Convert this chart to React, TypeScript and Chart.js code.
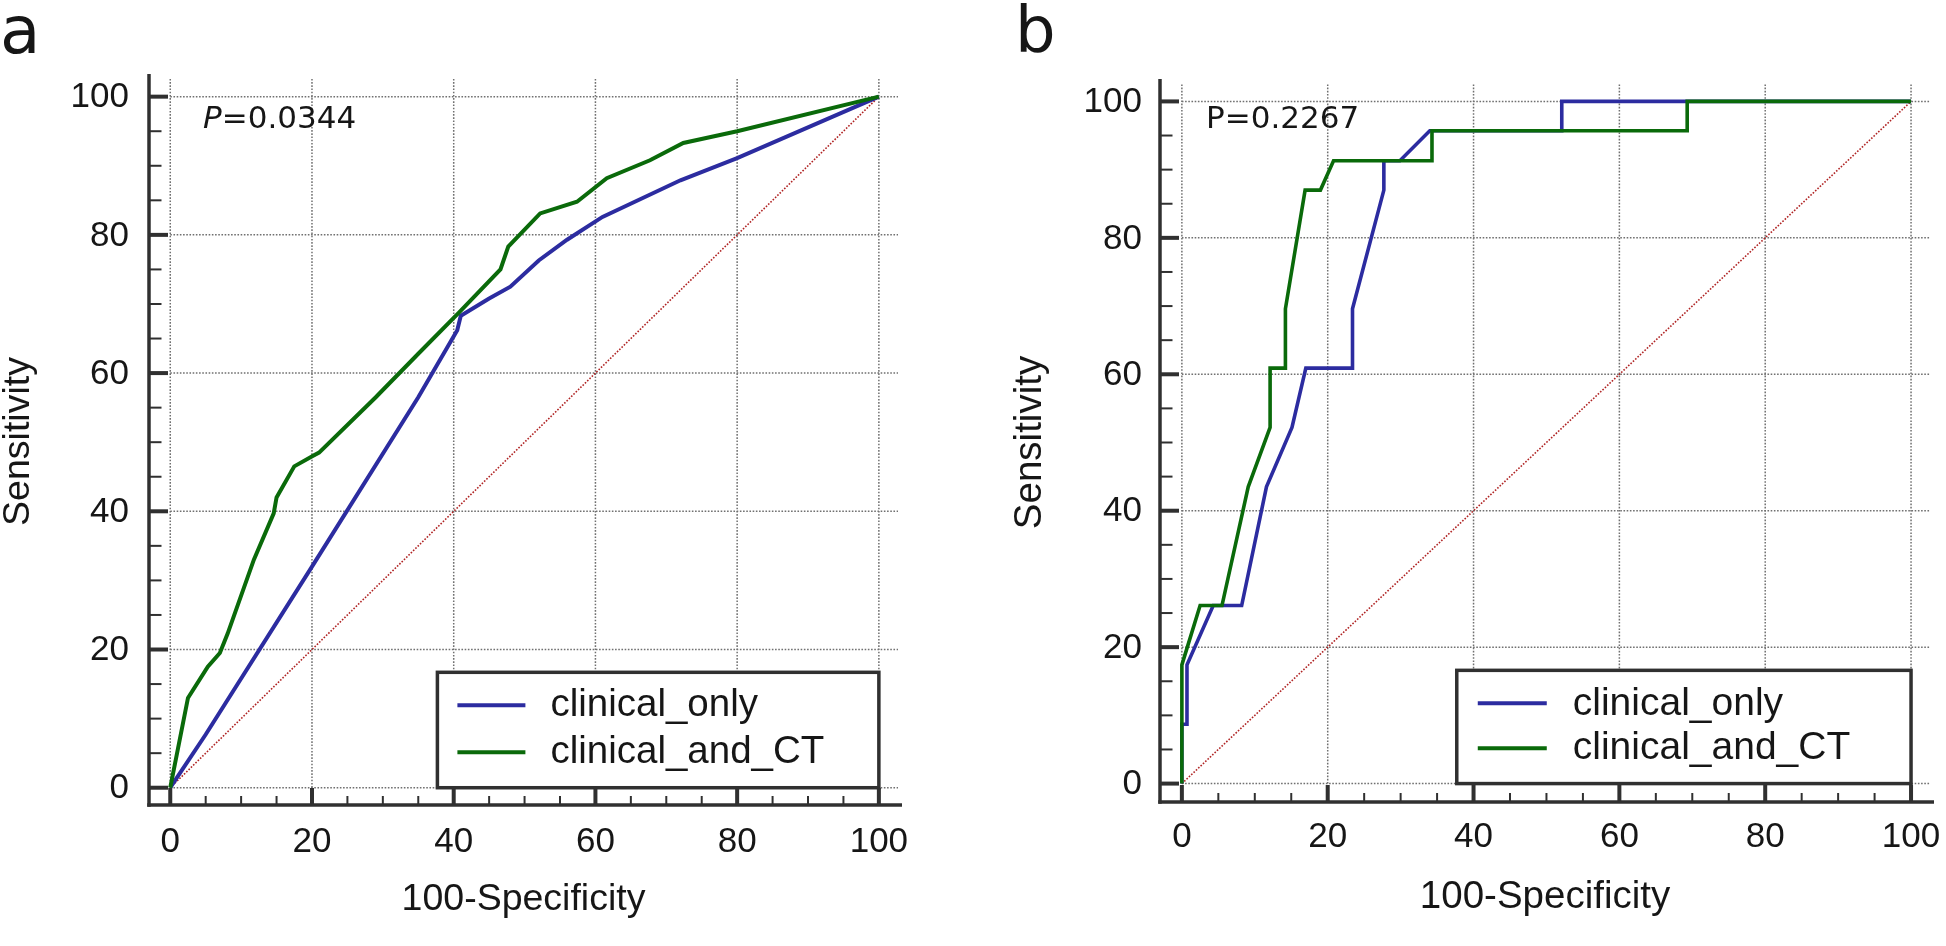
import React, { useEffect, useRef } from "react";
import { Chart, registerables } from "chart.js";
Chart.register(...registerables);

// ---------- data ----------
const SERIES_LABELS = ["clinical_only", "clinical_and_CT"];

// Panel a
const A_CLIN_X = [0, 5, 20, 35, 40.5, 41, 45, 48, 52, 56, 61, 72, 80, 100];
const A_CLIN_Y = [0, 7.7, 32, 56.5, 66.2, 68.3, 70.8, 72.5, 76.3, 79.3, 82.6, 87.9, 91.1, 100];
const A_CT_X = [0, 2.5, 5.3, 7, 8.1, 11.8, 14.6, 15, 17.5, 20.1, 21, 29, 35, 40.7, 46.6, 47.7, 52.2, 57.4, 61.6, 67.7, 72.4, 80, 100];
const A_CT_Y = [0, 13, 17.5, 19.5, 22.3, 33, 39.7, 42, 46.5, 48, 48.5, 56.5, 62.8, 68.7, 75, 78.3, 83.1, 84.8, 88.2, 90.8, 93.3, 95, 100];

// Panel b
const B_CLIN_X = [0, 0, 0.7, 0.7, 4.3, 8.2, 11.6, 15.1, 17.0, 23.4, 23.4, 27.7, 27.7, 29.9, 34.0, 52.1, 52.1, 100];
const B_CLIN_Y = [0, 8.7, 8.7, 17.4, 26.1, 26.1, 43.5, 52.2, 60.9, 60.9, 69.6, 87.0, 91.3, 91.3, 95.7, 95.7, 100, 100];
const B_CT_X = [0, 0, 2.5, 5.5, 9.1, 12.1, 12.1, 14.2, 14.2, 16.9, 19.0, 20.8, 34.3, 34.3, 69.3, 69.3, 100];
const B_CT_Y = [0, 17.4, 26.1, 26.1, 43.5, 52.2, 60.9, 60.9, 69.6, 87.0, 87.0, 91.3, 91.3, 95.7, 95.7, 100, 100];

const DIAG_X = [0, 100];
const DIAG_Y = [0, 100];

const MAJOR_TICKS = [0, 20, 40, 60, 80, 100];
const MINOR_TICKS = [5, 10, 15, 25, 30, 35, 45, 50, 55, 65, 70, 75, 85, 90, 95];
const X_TITLE = "100-Specificity";
const Y_TITLE = "Sensitivity";

// ---------- styles ----------
const BLUE = "#2c2ca0";
const GREEN = "#0a6a0a";
const DIAG = "#b02424";
const GRID = "#707070";
const AXIS = "#303030";
const TEXT = "#161616";
const SANS = "'Liberation Sans', Arial, sans-serif";
const DEJAVU = "'DejaVu Sans', Verdana, sans-serif";

const pts = (xs: number[], ys: number[]) => xs.map((x, i) => ({ x, y: ys[i] }));

const decor = {
  id: "decor",
  beforeDatasetsDraw(chart: any) {
    const ctx = chart.ctx;
    const xs = chart.scales.x;
    const ys = chart.scales.y;
    const ca = chart.chartArea;
    ctx.save();
    ctx.strokeStyle = GRID;
    ctx.lineWidth = 1.5;
    ctx.setLineDash([1.6, 1.6]);
    for (const t of MAJOR_TICKS) {
      const px = xs.getPixelForValue(t);
      ctx.beginPath();
      ctx.moveTo(px, ys.getPixelForValue(0));
      ctx.lineTo(px, ca.top);
      ctx.stroke();
      const py = ys.getPixelForValue(t);
      ctx.beginPath();
      ctx.moveTo(xs.getPixelForValue(0), py);
      ctx.lineTo(ca.right, py);
      ctx.stroke();
    }
    ctx.restore();
  },
  afterDatasetsDraw(chart: any, _a: any, o: any) {
    const ctx = chart.ctx;
    const xs = chart.scales.x;
    const ys = chart.scales.y;
    const ca = chart.chartArea;
    ctx.save();
    ctx.setLineDash([]);

    // legend box
    const lx0 = xs.getPixelForValue(o.legendLeft);
    const lx1 = xs.getPixelForValue(100);
    const ly0 = ys.getPixelForValue(o.legendTop);
    const ly1 = ys.getPixelForValue(0);
    ctx.fillStyle = "#ffffff";
    ctx.fillRect(lx0, ly0, lx1 - lx0, ly1 - ly0);
    ctx.strokeStyle = AXIS;
    ctx.lineWidth = 3.5;
    ctx.strokeRect(lx0, ly0, lx1 - lx0, ly1 - ly0);
    const legendSets = chart.data.datasets.filter((d: any) => d.inLegend);
    ctx.font = `${o.legendFont}px ${SANS}`;
    ctx.textAlign = "left";
    ctx.textBaseline = "alphabetic";
    legendSets.forEach((d: any, i: number) => {
      const ly = ly0 + o.legendRows[i];
      ctx.strokeStyle = d.borderColor;
      ctx.lineWidth = 4;
      ctx.beginPath();
      ctx.moveTo(lx0 + o.legendLine[0], ly);
      ctx.lineTo(lx0 + o.legendLine[1], ly);
      ctx.stroke();
      ctx.fillStyle = TEXT;
      ctx.fillText(d.label, lx0 + o.legendText, ly0 + o.legendBase[i]);
    });

    // spines
    ctx.strokeStyle = AXIS;
    ctx.lineWidth = 3.5;
    ctx.beginPath();
    ctx.moveTo(ca.left, ca.top - 4);
    ctx.lineTo(ca.left, ca.bottom + 1.75);
    ctx.stroke();
    ctx.beginPath();
    ctx.moveTo(ca.left - 1.75, ca.bottom);
    ctx.lineTo(ca.right + 4, ca.bottom);
    ctx.stroke();

    // ticks
    for (const t of MAJOR_TICKS) {
      ctx.lineWidth = 4;
      const py = ys.getPixelForValue(t);
      ctx.beginPath();
      ctx.moveTo(ca.left, py);
      ctx.lineTo(ca.left + 19, py);
      ctx.stroke();
      const px = xs.getPixelForValue(t);
      ctx.beginPath();
      ctx.moveTo(px, ca.bottom);
      ctx.lineTo(px, ca.bottom - 17);
      ctx.stroke();
    }
    for (const t of MINOR_TICKS) {
      ctx.lineWidth = 2;
      const py = ys.getPixelForValue(t);
      ctx.beginPath();
      ctx.moveTo(ca.left, py);
      ctx.lineTo(ca.left + 12.5, py);
      ctx.stroke();
      const px = xs.getPixelForValue(t);
      ctx.beginPath();
      ctx.moveTo(px, ca.bottom);
      ctx.lineTo(px, ca.bottom - 9);
      ctx.stroke();
    }

    // tick labels
    ctx.fillStyle = TEXT;
    ctx.font = `${o.tickFont}px ${SANS}`;
    ctx.textAlign = "right";
    ctx.textBaseline = "middle";
    for (const t of MAJOR_TICKS) {
      ctx.fillText(String(t), ca.left - o.yLabelGap, ys.getPixelForValue(t) + 1);
    }
    ctx.textAlign = "center";
    for (const t of MAJOR_TICKS) {
      ctx.fillText(String(t), xs.getPixelForValue(t), ca.bottom + o.xLabelGap);
    }

    // axis titles
    ctx.font = `${o.titleFont}px ${SANS}`;
    ctx.fillText(X_TITLE, (ca.left + ca.right) / 2, ca.bottom + 95);
    ctx.save();
    ctx.translate(ca.left - 130, (ca.top + ca.bottom) / 2);
    ctx.rotate(-Math.PI / 2);
    ctx.fillText(Y_TITLE, 0, 0);
    ctx.restore();

    // P value
    ctx.textAlign = "left";
    ctx.textBaseline = "alphabetic";
    let x = o.pX;
    if (o.pItalic) {
      ctx.font = `italic ${o.pFont}px ${DEJAVU}`;
      ctx.fillText("P", x, o.pY);
      x += ctx.measureText("P").width;
      ctx.font = `${o.pFont}px ${DEJAVU}`;
      ctx.fillText(o.pRest, x, o.pY);
    } else {
      ctx.font = `${o.pFont}px ${DEJAVU}`;
      ctx.fillText("P" + o.pRest, x, o.pY);
    }

    // panel letter
    ctx.font = `${o.letterFont}px ${DEJAVU}`;
    ctx.fillText(o.letter, o.letterX, o.letterY);
    ctx.restore();
  },
};

function RocPanel(props: {
  width: number;
  left: number;
  clinX: number[];
  clinY: number[];
  ctX: number[];
  ctY: number[];
  lineWidth: number;
  padding: { left: number; right: number; top: number; bottom: number };
  xRange: [number, number];
  yRange: [number, number];
  decorOpts: any;
}) {
  const ref = useRef<HTMLCanvasElement | null>(null);
  useEffect(() => {
    if (!ref.current) return;
    const chart = new Chart(ref.current, {
      type: "scatter",
      data: {
        datasets: [
          {
            label: SERIES_LABELS[0],
            data: pts(props.clinX, props.clinY),
            borderColor: BLUE,
            backgroundColor: BLUE,
            borderWidth: props.lineWidth,
            showLine: true,
            pointRadius: 0,
            tension: 0,
            order: 1,
            inLegend: true,
          } as any,
          {
            label: SERIES_LABELS[1],
            data: pts(props.ctX, props.ctY),
            borderColor: GREEN,
            backgroundColor: GREEN,
            borderWidth: props.lineWidth,
            showLine: true,
            pointRadius: 0,
            tension: 0,
            order: 0,
            inLegend: true,
          } as any,
          {
            label: "reference",
            data: pts(DIAG_X, DIAG_Y),
            borderColor: DIAG,
            backgroundColor: DIAG,
            borderWidth: 1.6,
            borderDash: [1.6, 1.6],
            showLine: true,
            pointRadius: 0,
            order: 2,
            inLegend: false,
          } as any,
        ],
      },
      options: {
        responsive: false,
        animation: false,
        layout: { padding: props.padding },
        scales: {
          x: { type: "linear", min: props.xRange[0], max: props.xRange[1], display: false },
          y: { type: "linear", min: props.yRange[0], max: props.yRange[1], display: false },
        },
        plugins: {
          legend: { display: false },
          tooltip: { enabled: false },
          decor: props.decorOpts,
        } as any,
      },
      plugins: [decor as any],
    });
    return () => chart.destroy();
  }, []);
  return (
    <canvas
      ref={ref}
      width={props.width}
      height={946}
      style={{ position: "absolute", left: props.left, top: 0, width: props.width, height: 946, display: "block" }}
    />
  );
}

export default function App() {
  return (
    <div style={{ position: "fixed", left: 0, top: 0, width: 1946, height: 946, background: "#fff", overflow: "hidden" }}>
      <RocPanel
        width={960}
        left={0}
        clinX={A_CLIN_X}
        clinY={A_CLIN_Y}
        ctX={A_CT_X}
        ctY={A_CT_Y}
        lineWidth={4}
        padding={{ left: 149, right: 62, top: 78, bottom: 141 }}
        xRange={[-3, 102.7]}
        yRange={[-2.5, 102.7]}
        decorOpts={{
          legendLeft: 37.7,
          legendTop: 16.7,
          legendLine: [20, 88],
          legendRows: [33, 80],
          legendBase: [44, 91],
          legendText: 113,
          legendFont: 38.5,
          tickFont: 35,
          titleFont: 37.5,
          yLabelGap: 20,
          xLabelGap: 37,
          pX: 203,
          pY: 128,
          pFont: 31,
          pItalic: true,
          pRest: "=0.0344",
          letter: "a",
          letterX: 0,
          letterY: 53,
          letterFont: 66,
        }}
      />
      <RocPanel
        width={986}
        left={960}
        clinX={B_CLIN_X}
        clinY={B_CLIN_Y}
        ctX={B_CT_X}
        ctY={B_CT_Y}
        lineWidth={3.6}
        padding={{ left: 200, right: 16, top: 83, bottom: 144 }}
        xRange={[-3, 102.6]}
        yRange={[-2.7, 102.7]}
        decorOpts={{
          legendLeft: 37.7,
          legendTop: 16.6,
          legendLine: [21, 90],
          legendRows: [33, 78],
          legendBase: [45, 89],
          legendText: 116,
          legendFont: 39,
          tickFont: 35,
          titleFont: 38.5,
          yLabelGap: 18,
          xLabelGap: 35,
          pX: 246,
          pY: 128,
          pFont: 31,
          pItalic: false,
          pRest: "=0.2267",
          letter: "b",
          letterX: 55,
          letterY: 52,
          letterFont: 64,
        }}
      />
    </div>
  );
}
